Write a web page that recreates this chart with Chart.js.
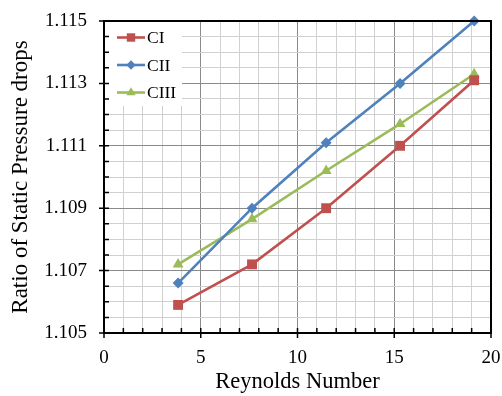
<!DOCTYPE html>
<html><head><meta charset="utf-8">
<script src="https://cdn.jsdelivr.net/npm/chart.js@4/dist/chart.umd.min.js"></script>
<style>html,body{margin:0;padding:0;background:#fff}#wrap{width:502px;height:396px}</style>
</head><body><div id="wrap"><canvas id="c" width="502" height="396"></canvas></div>
<script>
const reynolds = [3.83, 7.65, 11.48, 15.3, 19.13];
const seriesNames = ['CI', 'CII', 'CIII'];
const ciValues = [1.1059, 1.1072, 1.1090, 1.1110, 1.1131];
const ciiValues = [1.1066, 1.1090, 1.1111, 1.1130, 1.1150];
const ciiiValues = [1.1072, 1.10865, 1.1102, 1.1117, 1.1133];
const xTickLabels = ['0', '5', '10', '15', '20'];
const yTickLabels = ['1.105', '1.107', '1.109', '1.111', '1.113', '1.115'];

const FONT = '"Liberation Serif", "Times New Roman", serif';
const colors = ['#C0504D', '#4F81BD', '#9BBB59'];
const styles = ['rect', 'rectRot', 'triangle'];
const radii = [7, 5.5, 6.3];
const allValues = [ciValues, ciiValues, ciiiValues];

function findLabel(list, v) {
  for (const l of list) if (Math.abs(Number(l) - v) < 1e-7) return l;
  return null;
}

const datasets = seriesNames.map((name, i) => ({
  label: name,
  data: reynolds.map((x, j) => ({ x: x, y: allValues[i][j] })),
  showLine: true,
  borderColor: colors[i],
  backgroundColor: colors[i],
  borderWidth: 2.6,
  pointStyle: styles[i],
  pointRadius: radii[i],
  pointHoverRadius: radii[i],
  pointBorderWidth: 0,
  clip: false
}));

function drawMarker(ctx, style, x, y, r, color) {
  ctx.save();
  ctx.fillStyle = color;
  ctx.beginPath();
  if (style === 'rect') {
    const s = r * Math.SQRT1_2;
    ctx.rect(x - s, y - s, 2 * s, 2 * s);
  } else if (style === 'rectRot') {
    ctx.moveTo(x - r, y); ctx.lineTo(x, y - r); ctx.lineTo(x + r, y); ctx.lineTo(x, y + r); ctx.closePath();
  } else {
    let a = 0;
    ctx.moveTo(x + Math.sin(a) * r, y - Math.cos(a) * r);
    a += 2 * Math.PI / 3;
    ctx.lineTo(x + Math.sin(a) * r, y - Math.cos(a) * r);
    a += 2 * Math.PI / 3;
    ctx.lineTo(x + Math.sin(a) * r, y - Math.cos(a) * r);
    ctx.closePath();
  }
  ctx.fill();
  ctx.restore();
}

const decor = {
  id: 'decor',
  beforeDatasetsDraw(chart) {
    const ctx = chart.ctx, a = chart.chartArea;
    ctx.save();
    ctx.fillStyle = '#ffffff';
    ctx.fillRect(a.left, a.top, 78, 85);
    ctx.restore();
  },
  afterDraw(chart) {
    const ctx = chart.ctx, a = chart.chartArea;
    const ys = [a.top + 16.5, a.top + 44, a.top + 71.5];
    seriesNames.forEach((name, i) => {
      const y = ys[i];
      ctx.save();
      ctx.strokeStyle = colors[i];
      ctx.lineWidth = 2.6;
      ctx.beginPath(); ctx.moveTo(a.left + 13, y); ctx.lineTo(a.left + 41, y); ctx.stroke();
      ctx.restore();
      drawMarker(ctx, styles[i], a.left + 27, y, radii[i] * 0.85, colors[i]);
      ctx.save();
      ctx.fillStyle = '#000';
      ctx.font = '17.5px ' + FONT;
      ctx.textBaseline = 'middle';
      ctx.textAlign = 'left';
      ctx.fillText(name, a.left + 43, y + 1);
      ctx.restore();
    });
    ctx.save();
    ctx.strokeStyle = '#000';
    ctx.lineWidth = 2;
    ctx.strokeRect(a.left, a.top, a.right - a.left, a.bottom - a.top);
    ctx.lineWidth = 1.5;
    const xs = chart.scales.x, yS = chart.scales.y;
    ctx.beginPath();
    xs.ticks.forEach(t => {
      const p = xs.getPixelForValue(t.value);
      const major = findLabel(xTickLabels, t.value) !== null;
      ctx.moveTo(p, major ? a.bottom + 5 : a.bottom);
      ctx.lineTo(p, a.bottom - 5);
    });
    yS.ticks.forEach(t => {
      const p = yS.getPixelForValue(t.value);
      const major = findLabel(yTickLabels, t.value) !== null;
      ctx.moveTo(major ? a.left - 5 : a.left, p);
      ctx.lineTo(a.left + 5, p);
    });
    ctx.stroke();
    ctx.restore();
  }
};

function noPad(s) { s.paddingTop = 0; s.paddingBottom = 0; s.paddingLeft = 0; s.paddingRight = 0; }

new Chart(document.getElementById('c'), {
  type: 'scatter',
  data: { datasets },
  options: {
    responsive: false,
    animation: false,
    devicePixelRatio: 1,
    layout: { padding: { left: 0, right: 11, top: 21, bottom: 0 } },
    plugins: { legend: { display: false }, tooltip: { enabled: false } },
    scales: {
      x: {
        type: 'linear', min: 0, max: 20,
        border: { display: false },
        grid: {
          drawTicks: false,
          color: c => findLabel(xTickLabels, c.tick.value) !== null ? '#8a8a8a' : '#d0d0d0',
          lineWidth: 1
        },
        ticks: {
          stepSize: 1, autoSkip: false, maxRotation: 0, padding: 14,
          color: '#000', font: { family: FONT, size: 19 },
          callback: v => findLabel(xTickLabels, v) || ''
        },
        title: {
          display: true, text: 'Reynolds Number', color: '#000',
          font: { family: FONT, size: 22.5, lineHeight: 1.0 },
          padding: { top: 0, bottom: 3 }
        },
        afterFit: s => { s.height = 63; noPad(s); }
      },
      y: {
        type: 'linear', min: 1.105, max: 1.115,
        border: { display: false },
        grid: {
          drawTicks: false,
          color: c => findLabel(yTickLabels, c.tick.value) !== null ? '#8a8a8a' : '#d0d0d0',
          lineWidth: 1
        },
        ticks: {
          stepSize: 0.0005, autoSkip: false, padding: 17,
          color: '#000', font: { family: FONT, size: 19 },
          callback: v => findLabel(yTickLabels, v) || ''
        },
        title: {
          display: true, text: 'Ratio of Static Pressure drops', color: '#000',
          font: { family: FONT, size: 23, lineHeight: 1.2 },
          padding: { top: 7, bottom: 0 }
        },
        afterFit: s => { s.width = 104; noPad(s); }
      }
    }
  },
  plugins: [decor]
});
</script></body></html>
